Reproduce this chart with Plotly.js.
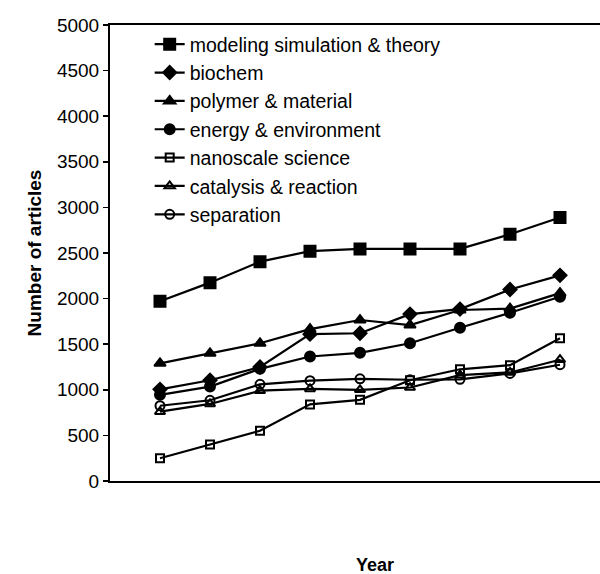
<!DOCTYPE html>
<html>
<head>
<meta charset="utf-8">
<script src="https://cdn.plot.ly/plotly-3.0.1.min.js"></script>
<style>html,body{margin:0;padding:0;background:#fff;}#chart{width:600px;height:574px;}</style>
</head>
<body>
<div id="chart"></div>
<script>
// Data points (years not labelled on the original chart)
var points = [1, 2, 3, 4, 5, 6, 7, 8, 9];

var seriesNames = [
  "modeling simulation & theory",
  "biochem",
  "polymer & material",
  "energy & environment",
  "nanoscale science",
  "catalysis & reaction",
  "separation"
];

var modeling   = [1970, 2175, 2405, 2520, 2545, 2545, 2545, 2705, 2890];
var biochem    = [1005, 1105, 1250, 1610, 1620, 1830, 1885, 2100, 2255];
var polymer    = [1290, 1400, 1510, 1665, 1765, 1710, 1875, 1890, 2060];
var energy     = [945, 1035, 1230, 1365, 1405, 1510, 1680, 1845, 2020];
var nanoscale  = [250, 400, 550, 840, 890, 1105, 1225, 1270, 1565];
var catalysis  = [760, 845, 990, 1010, 1000, 1025, 1160, 1190, 1330];
var separation = [825, 885, 1060, 1100, 1120, 1110, 1115, 1180, 1275];

var yTicks = [0, 500, 1000, 1500, 2000, 2500, 3000, 3500, 4000, 4500, 5000];

var seriesValues = [modeling, biochem, polymer, energy, nanoscale, catalysis, separation];
var markerStyles = [
  {symbol: "square", size: 11},
  {symbol: "diamond", size: 10},
  {symbol: "triangle-up", size: 10},
  {symbol: "circle", size: 10},
  {symbol: "square-open", size: 8},
  {symbol: "triangle-up-open", size: 9},
  {symbol: "circle-open", size: 9}
];

var traces = seriesValues.map(function (vals, i) {
  return {
    x: points,
    y: vals,
    name: seriesNames[i],
    type: "scatter",
    mode: "lines+markers",
    line: {color: "#000", width: 2.2},
    marker: {
      symbol: markerStyles[i].symbol,
      size: markerStyles[i].size,
      color: "#000",
      line: {color: "#000", width: 2}
    }
  };
});

var layout = {
  width: 600,
  height: 574,
  margin: {l: 110, r: 0, t: 25, b: 93},
  paper_bgcolor: "#fff",
  plot_bgcolor: "#fff",
  font: {family: "Liberation Sans, Arial, sans-serif", color: "#000", size: 19},
  showlegend: true,
  legend: {
    x: 0.081, y: 1, xanchor: "left", yanchor: "top",
    bgcolor: "rgba(0,0,0,0)",
    font: {size: 19.5, color: "#000"},
    tracegroupgap: 0
  },
  xaxis: {
    range: [0, 9.8],
    showticklabels: false,
    ticks: "",
    showgrid: false,
    zeroline: false,
    showline: true,
    linecolor: "#000",
    linewidth: 2,
    mirror: true
  },
  yaxis: {
    range: [0, 5000],
    tickvals: yTicks,
    ticktext: yTicks.map(String),
    ticks: "outside",
    ticklen: 5,
    tickwidth: 1.5,
    tickcolor: "#000",
    showgrid: false,
    zeroline: false,
    showline: true,
    linecolor: "#000",
    linewidth: 2,
    tickfont: {size: 19},
    title: {text: "Number of articles", font: {size: 19, weight: "bold"}, standoff: 10}
  },
  annotations: [{
    text: "Year",
    xref: "paper", yref: "paper",
    x: 0.541, y: -0.184,
    xanchor: "center", yanchor: "middle",
    showarrow: false,
    font: {size: 18, weight: "bold", color: "#000"}
  }]
};

Plotly.newPlot("chart", traces, layout, {displayModeBar: false, staticPlot: true});
</script>
</body>
</html>
